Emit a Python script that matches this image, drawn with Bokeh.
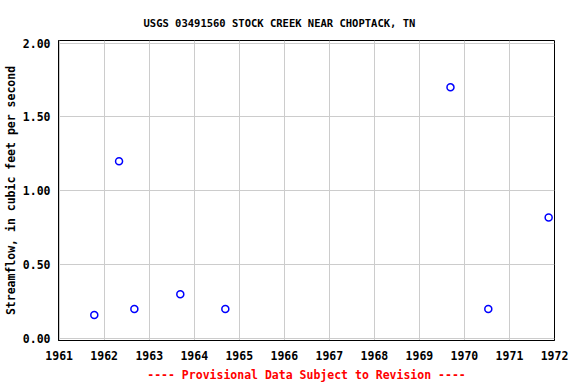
from bokeh.plotting import figure
from bokeh.models import Range1d, FixedTicker, NumeralTickFormatter, ColumnDataSource
from bokeh.embed import file_html
from bokeh.resources import INLINE

# Data (decimal year, streamflow cfs)
years = [1961.78, 1962.33, 1962.67, 1963.69, 1964.69, 1969.69, 1970.53, 1971.87]
flows = [0.16, 1.20, 0.20, 0.30, 0.20, 1.70, 0.20, 0.82]
x_ticks = list(range(1961, 1973))
y_ticks = [0.0, 0.5, 1.0, 1.5, 2.0]

title_text = "USGS 03491560 STOCK CREEK NEAR CHOPTACK, TN"
y_label = "Streamflow, in cubic feet per second"
x_label = "---- Provisional Data Subject to Revision ----"

FONT = "DejaVu Sans Mono"

p = figure(width=576, height=384, output_backend="svg", toolbar_location=None,
           x_range=Range1d(1960.985, 1972.0), y_range=Range1d(-0.013, 2.017),
           min_border_left=58, min_border_right=22, min_border_top=40, min_border_bottom=42)

p.title.text = title_text
p.title.align = "left"
p.title.offset = 85
p.title.text_font = FONT
p.title.text_font_size = "10.5px"
p.title.text_font_style = "bold"
p.title.text_color = "black"
p.title.standoff = 24

src = ColumnDataSource(dict(x=years, y=flows))
p.scatter("x", "y", source=src, marker="circle", size=7, fill_color=None,
          line_color="blue", line_width=1.5)

p.outline_line_color = "black"
p.outline_line_width = 1
p.outline_line_alpha = 1

for ax in (p.xaxis[0], p.yaxis[0]):
    ax.major_tick_line_color = None
    ax.minor_tick_line_color = None
    ax.major_tick_out = 0
    ax.major_tick_in = 0
    ax.minor_tick_out = 0
    ax.minor_tick_in = 0
    ax.axis_line_color = "black"
    ax.major_label_text_font = FONT
    ax.major_label_text_font_size = "11.5px"
    ax.major_label_text_font_style = "bold"
    ax.major_label_text_color = "black"
    ax.axis_label_text_font = FONT
    ax.axis_label_text_font_size = "11.5px"
    ax.axis_label_text_font_style = "bold"

p.xaxis.ticker = FixedTicker(ticks=x_ticks)
p.xaxis.major_label_overrides = {t: str(t) for t in x_ticks}
p.xaxis.major_label_standoff = 10
p.xaxis.axis_label = x_label
p.xaxis.axis_label_text_color = "red"
p.xaxis.axis_label_standoff = 5

p.yaxis.ticker = FixedTicker(ticks=y_ticks)
p.yaxis.formatter = NumeralTickFormatter(format="0.00")
p.yaxis.major_label_standoff = 8
p.yaxis.axis_label = y_label
p.yaxis.axis_label_text_color = "black"
p.yaxis.axis_label_standoff = 2

p.xgrid.ticker = FixedTicker(ticks=x_ticks)
p.ygrid.ticker = FixedTicker(ticks=y_ticks)
p.grid.grid_line_color = "#cccccc"
p.grid.grid_line_width = 1

p.background_fill_color = "white"
p.border_fill_color = "white"

open("out.html", "w").write(file_html(p, INLINE))
